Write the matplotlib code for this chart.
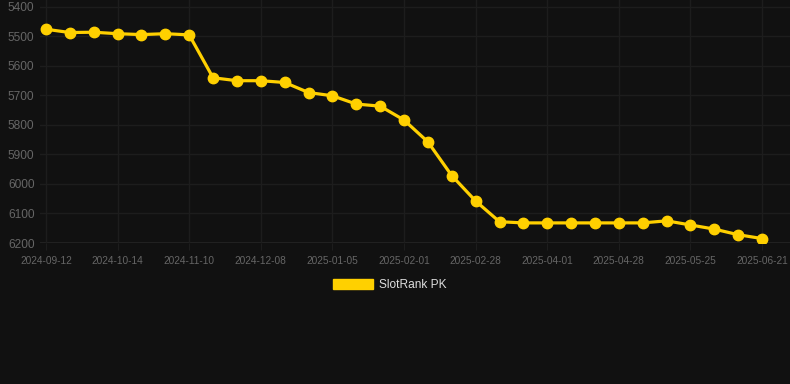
import matplotlib
matplotlib.use("Agg")
import matplotlib.pyplot as plt
from matplotlib.patches import Patch

plt.rcParams['font.family'] = ['Liberation Sans', 'DejaVu Sans']

series_name = "SlotRank PK"
rank_values = [5477, 5488, 5487, 5492, 5495, 5492, 5496, 5641, 5651, 5651,
               5657, 5691, 5702, 5730, 5737, 5784, 5858, 5972, 6058, 6128,
               6132, 6132, 6132, 6132, 6132, 6132, 6125, 6139, 6153, 6172, 6185]
tick_labels = ["2024-09-12", "2024-10-14", "2024-11-10", "2024-12-08",
               "2025-01-05", "2025-02-01", "2025-02-28", "2025-04-01",
               "2025-04-28", "2025-05-25", "2025-06-21"]
y_ticks = [5400, 5500, 5600, 5700, 5800, 5900, 6000, 6100, 6200]

bg = "#111111"
gold = "#FFD000"
grid_c = "#1d1d1d"
tick_c = "#666666"

fig = plt.figure(figsize=(7.9, 3.84), dpi=100, facecolor=bg)
ax = fig.add_axes([40/790, 1 - 243/384, 750/790, 243/384])
ax.set_facecolor(bg)

x = list(range(len(rank_values)))
ax.plot(x, rank_values, color=gold, lw=2.3, marker='o', ms=7.5,
        mfc=gold, mec=gold, zorder=3, solid_joinstyle='round')

ax.set_xlim(-0.25, 31.17)
ax.set_ylim(6200, 5378)
ax.set_yticks(y_ticks)
ax.set_xticks(list(range(0, len(rank_values), 3)))
ax.set_xticklabels(tick_labels)

ax.grid(True, color=grid_c, lw=1)
for s in ax.spines.values():
    s.set_visible(False)
ax.axhline(6200, color="#272727", lw=1.2, zorder=1)

ax.tick_params(axis='x', colors=grid_c, length=5, labelcolor=tick_c,
               labelsize=7.3, pad=4)
ax.tick_params(axis='y', length=0, labelcolor=tick_c, labelsize=8.6, pad=4)

handle = Patch(facecolor=gold, edgecolor=gold)
fig.legend([handle], [series_name], loc='center', bbox_to_anchor=(390/790, 1 - 285/384),
           frameon=False, fontsize=8.6, labelcolor="#dddddd",
           handlelength=3.33, handleheight=1.0, handletextpad=0.5)

fig.savefig("out.png", dpi=100, facecolor=bg)
